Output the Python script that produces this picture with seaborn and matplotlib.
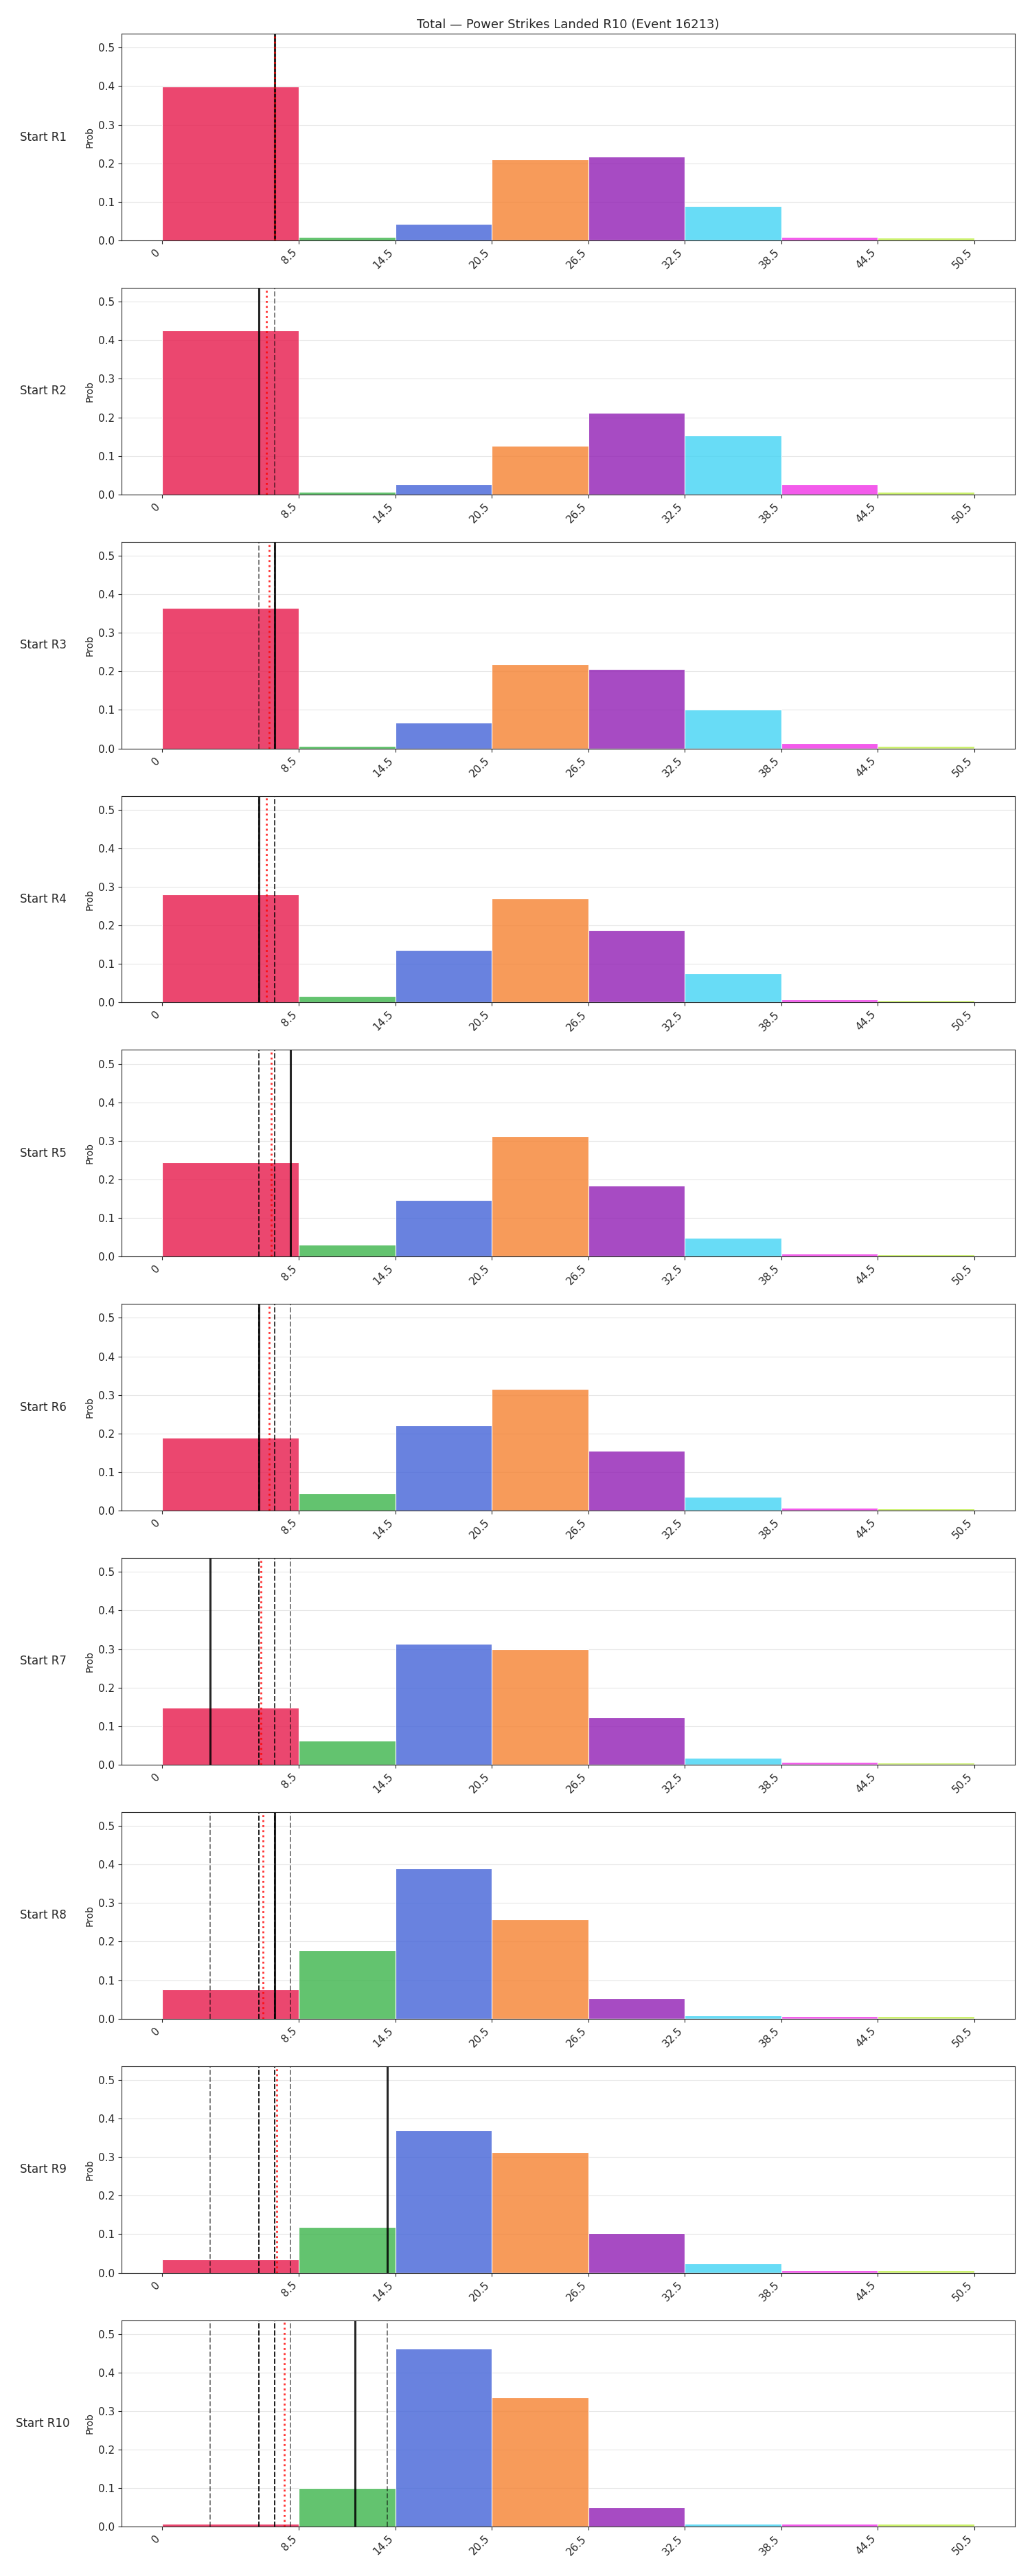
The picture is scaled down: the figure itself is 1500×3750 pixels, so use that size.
import numpy as np
import pandas as pd
import matplotlib
matplotlib.use("Agg")
from matplotlib import pyplot as plt
import seaborn as sns

# bins of total power strikes landed
edges = [0, 8.5, 14.5, 20.5, 26.5, 32.5, 38.5, 44.5, 50.5]
bin_names = ["0-8", "9-14", "15-20", "21-26", "27-32", "33-38", "39-44", "45-50"]
bin_colors = ["#e6194b", "#3cb44b", "#4363d8", "#f58231",
              "#911eb4", "#42d4f4", "#f032e6", "#bfef45"]

start_rounds = ["R1", "R2", "R3", "R4", "R5", "R6", "R7", "R8", "R9", "R10"]

# probability of each bin, per starting round
probs_r1 = [0.399, 0.008, 0.042, 0.211, 0.218, 0.089, 0.009, 0.007]
probs_r2 = [0.425, 0.007, 0.027, 0.126, 0.211, 0.153, 0.027, 0.006]
probs_r3 = [0.364, 0.007, 0.067, 0.219, 0.206, 0.100, 0.013, 0.006]
probs_r4 = [0.280, 0.016, 0.137, 0.269, 0.188, 0.076, 0.007, 0.006]
probs_r5 = [0.244, 0.030, 0.146, 0.312, 0.184, 0.049, 0.007, 0.006]
probs_r6 = [0.189, 0.044, 0.221, 0.316, 0.156, 0.036, 0.007, 0.006]
probs_r7 = [0.148, 0.062, 0.314, 0.300, 0.123, 0.018, 0.007, 0.006]
probs_r8 = [0.076, 0.178, 0.389, 0.258, 0.053, 0.009, 0.007, 0.006]
probs_r9 = [0.035, 0.119, 0.369, 0.313, 0.103, 0.025, 0.007, 0.006]
probs_r10 = [0.007, 0.101, 0.462, 0.335, 0.051, 0.007, 0.007, 0.007]
all_probs = [probs_r1, probs_r2, probs_r3, probs_r4, probs_r5,
             probs_r6, probs_r7, probs_r8, probs_r9, probs_r10]

# power strikes actually landed in each round
round_landed = [7, 6, 7, 6, 8, 6, 3, 7, 14, 12]

sns.set_style("ticks")
plt.rcParams['font.family'] = ['DejaVu Sans']

fig, axes = plt.subplots(len(start_rounds), 1, figsize=(15, 37.5))
fig.subplots_adjust(left=0.118, right=0.9853, top=0.9869, bottom=0.0191, hspace=0.2295)

mids = [(a + b) / 2 for a, b in zip(edges[:-1], edges[1:])]
pal = dict(zip(bin_names, bin_colors))

for i, (ax, rnd, probs) in enumerate(zip(axes, start_rounds, all_probs)):
    df = pd.DataFrame({"mid": mids, "prob": probs, "bin": bin_names})
    sns.histplot(data=df, x="mid", weights="prob", hue="bin", hue_order=bin_names,
                 palette=pal, bins=edges, multiple="layer", alpha=0.8,
                 edgecolor="white", linewidth=0.8, legend=False, ax=ax)

    # earlier rounds, this round, running mean
    for v in round_landed[:i]:
        ax.axvline(v, color="black", linestyle="--", linewidth=1.4, alpha=0.5)
    ax.axvline(round_landed[i], color="black", linewidth=2.2, alpha=0.85)
    ax.axvline(np.mean(round_landed[:i + 1]), color="red", linestyle=":", linewidth=2, alpha=0.8)

    ax.set_xlim(-2.525, 53.025)
    ax.set_ylim(0, 0.536)
    ax.set_xticks(edges)
    ax.set_xticklabels([f"{e:g}" for e in edges], rotation=45, ha="right", fontsize=11)
    ax.tick_params(axis="y", labelsize=11)
    ax.set_xlabel("")
    ax.set_ylabel("Prob", fontsize=10)
    ax.grid(axis="y", color="#b0b0b0", alpha=0.3)
    ax.text(-0.088, 0.5, f"Start {rnd}", transform=ax.transAxes,
            ha="center", va="center", fontsize=12)

axes[0].set_title("Total — Power Strikes Landed R10 (Event 16213)", fontsize=13)

plt.savefig("out.png", dpi=100)
